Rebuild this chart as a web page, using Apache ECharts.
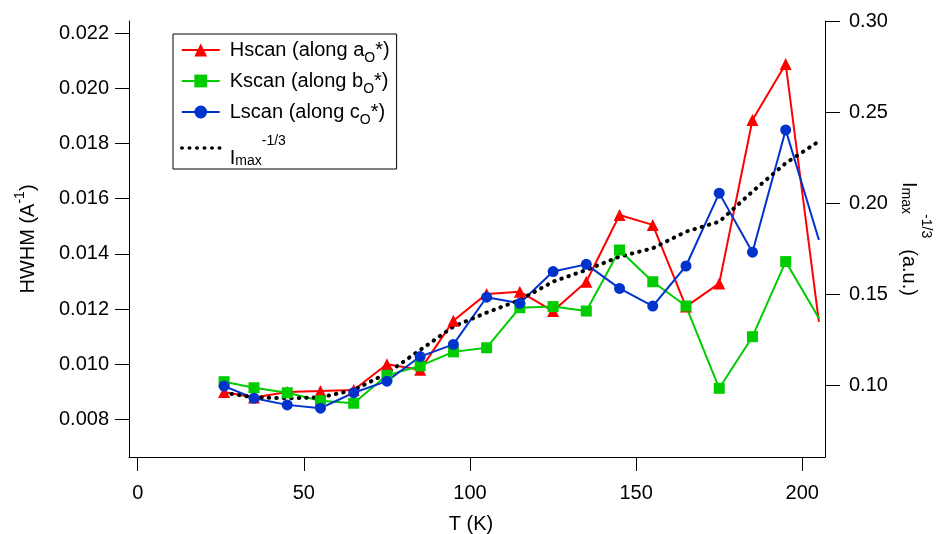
<!DOCTYPE html>
<html><head><meta charset="utf-8">
<script src="https://cdn.jsdelivr.net/npm/echarts@6/dist/echarts.min.js"></script>
<style>html,body{margin:0;padding:0;background:#fff}#c{width:938px;height:534px}</style>
</head><body><div id="c"></div>
<script>
// Temperatures (K)
const temps = [26, 35, 45, 55, 65, 75, 85, 95, 105, 115, 125, 135, 145, 155, 165, 175, 185, 195, 205];
// HWHM (A^-1)
const hscan = [0.0090, 0.0088, 0.0090, 0.00903, 0.00907, 0.0100, 0.0098, 0.01158, 0.01255, 0.01263, 0.01193, 0.01299, 0.01541, 0.01505, 0.01209, 0.01293, 0.01885, 0.02088, 0.01154];
const kscan = [0.00937, 0.00915, 0.00897, 0.00868, 0.00859, 0.0096, 0.00994, 0.01045, 0.0106, 0.01205, 0.01209, 0.01193, 0.01414, 0.01299, 0.01211, 0.00913, 0.0110, 0.01372, 0.01167];
const lscan = [0.00921, 0.00877, 0.00853, 0.00841, 0.00897, 0.00939, 0.01028, 0.01072, 0.01243, 0.01221, 0.01336, 0.01362, 0.01275, 0.01211, 0.01356, 0.0162, 0.01406, 0.01849, 0.0145];
// Imax^-1/3 (a.u.), right axis
const imax = [0.0960, 0.0935, 0.0930, 0.0935, 0.0975, 0.1067, 0.1195, 0.1323, 0.1400, 0.1469, 0.1570, 0.1634, 0.1707, 0.1753, 0.1844, 0.1899, 0.2064, 0.2220, 0.2340];
// Tick labels
const xTicks = [0, 50, 100, 150, 200];
const leftTicks = [0.008, 0.010, 0.012, 0.014, 0.016, 0.018, 0.020, 0.022];
const rightTicks = [0.10, 0.15, 0.20, 0.25, 0.30];

const font = 'Liberation Sans, Arial, sans-serif';
const last = temps.length - 1;
function pts(vals) {
  return temps.map((t, i) => i === last ? { value: [t, vals[i]], symbol: 'none' } : [t, vals[i]]);
}
const legendText = {
  'Hscan': 'Hscan (along a{sub|O}*)',
  'Kscan': 'Kscan (along b{sub|O}*)',
  'Lscan': 'Lscan (along c{sub|O}*)',
  'Imax': '{m|I}{sub2|max}{sup2|-1/3}'
};
function tok(size, lh, va) {
  return { fontSize: size, lineHeight: lh, verticalAlign: va, fontFamily: font, color: '#000' };
}
const richLegend = {
  sub: tok(14, 14, 'bottom'),
  m: tok(20, 34, 'bottom'),
  sub2: tok(14, 18, 'bottom'),
  sup2: tok(14, 10, 'top')
};
const richLeft = { sup: tok(14, 14, 'top') };
const richRight = {
  m: tok(20, 34, 'bottom'),
  sub2: tok(14, 18, 'bottom'),
  sup2: tok(14, 6, 'top')
};
const axisCommon = {
  axisLine: { show: true, onZero: false, lineStyle: { color: '#000', width: 1 } },
  splitLine: { show: false }
};
const chart = echarts.init(document.getElementById('c'), null, { renderer: 'canvas' });
chart.setOption({
  animation: false,
  backgroundColor: '#fff',
  grid: { left: 129, right: 113, top: 21, bottom: 77, containLabel: false, outerBoundsMode: 'none' },
  xAxis: Object.assign({}, axisCommon, {
    type: 'value', min: -2.618, max: 206.83,
    axisTick: { show: true, inside: false, length: 14, customValues: xTicks, lineStyle: { color: '#000' } },
    axisLabel: { customValues: xTicks, margin: 26, fontSize: 20, color: '#000', fontFamily: font },
    name: 'T (K)', nameLocation: 'middle', nameGap: 57,
    nameTextStyle: { fontSize: 20, color: '#000', fontFamily: font, padding: [0, 12, 0, 0] }
  }),
  yAxis: [
    Object.assign({}, axisCommon, {
      type: 'value', position: 'left', min: 0.006642, max: 0.022435,
      axisTick: { show: true, inside: false, length: 14, customValues: leftTicks, lineStyle: { color: '#000' } },
      axisLabel: { customValues: leftTicks, margin: 20, fontSize: 20, color: '#000', fontFamily: font, formatter: v => v.toFixed(3) },
      name: 'HWHM (A{sup|-1})', nameLocation: 'middle', nameGap: 86,
      nameTextStyle: { fontSize: 20, color: '#000', fontFamily: font, lineHeight: 30, rich: richLeft }
    }),
    Object.assign({}, axisCommon, {
      type: 'value', position: 'right', min: 0.06077, max: 0.30,
      axisTick: { show: true, inside: false, length: 15, customValues: rightTicks, lineStyle: { color: '#000' } },
      axisLabel: { customValues: rightTicks, margin: 24, fontSize: 20, color: '#000', fontFamily: font, formatter: v => v.toFixed(2) },
      name: '{m|I}{sub2|max}{sup2|-1/3}{m|  (a.u.)}', nameLocation: 'middle', nameGap: 66, nameRotate: -90,
      nameTextStyle: { fontSize: 20, color: '#000', fontFamily: font, rich: richRight }
    })
  ],
  legend: {
    orient: 'vertical', left: 173, top: 34,
    padding: [1, 7, 1, 7],
    itemWidth: 38, itemHeight: 16, itemGap: 1,
    borderColor: '#000', borderWidth: 1, backgroundColor: '#fff',
    data: ['Hscan', 'Kscan', 'Lscan',
      { name: 'Imax', itemStyle: { opacity: 0, borderWidth: 0 },
        lineStyle: { color: '#000', width: 3.5, type: [0.5, 7], cap: 'round' },
        textStyle: { padding: [6, 0, 0, 5] } }],
    formatter: n => legendText[n],
    textStyle: { fontSize: 20, fontFamily: font, color: '#000', lineHeight: 30, padding: [0, 0, 0, 5], rich: richLegend }
  },
  series: [
    { name: 'Hscan', type: 'line', data: pts(hscan), symbol: 'triangle', symbolSize: 12,
      itemStyle: { color: '#ff0000' }, lineStyle: { color: '#ff0000', width: 2 } },
    { name: 'Kscan', type: 'line', data: pts(kscan), symbol: 'rect', symbolSize: 11,
      itemStyle: { color: '#00cc00' }, lineStyle: { color: '#00cc00', width: 2 } },
    { name: 'Lscan', type: 'line', data: pts(lscan), symbol: 'circle', symbolSize: 11,
      itemStyle: { color: '#0033cc' }, lineStyle: { color: '#0033cc', width: 2 } },
    { name: 'Imax', type: 'line', yAxisIndex: 1, data: temps.map((t, i) => [t, imax[i]]), symbol: 'none',
      itemStyle: { color: '#000' }, lineStyle: { color: '#000', width: 4, type: [0.5, 7], cap: 'round' } }
  ]
});
</script></body></html>
